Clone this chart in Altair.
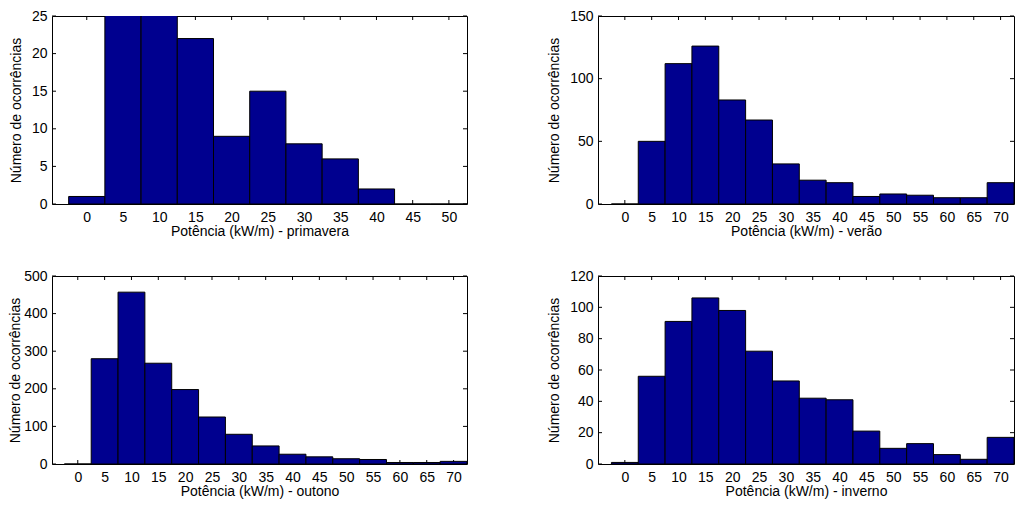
import altair as alt
import pandas as pd

# ---- data ----
centers_short = [0, 5, 10, 15, 20, 25, 30, 35, 40, 45, 50]
centers_long = [0, 5, 10, 15, 20, 25, 30, 35, 40, 45, 50, 55, 60, 65, 70]

primavera = [1, 29, 27, 22, 9, 15, 8, 6, 2, 0, 0]
verao = [0, 50, 112, 126, 83, 67, 32, 19, 17, 6, 8, 7, 5, 5, 17]
outono = [0, 280, 457, 268, 198, 125, 79, 48, 26, 19, 14, 12, 4, 4, 7]
inverno = [1, 56, 91, 106, 98, 72, 53, 42, 41, 21, 10, 13, 6, 3, 17]

yticks_primavera = [0, 5, 10, 15, 20, 25]
yticks_verao = [0, 50, 100, 150]
yticks_outono = [0, 100, 200, 300, 400, 500]
yticks_inverno = [0, 20, 40, 60, 80, 100, 120]

FONT = "Liberation Sans"
BAR = "#00008F"
H = 188


def panel(centers, counts, xdom, yticks, label, W, tpad):
    bars = pd.DataFrame({
        "x": [c - 2.5 for c in centers],
        "x2": [c + 2.5 for c in centers],
        "n": counts,
    })
    xt = pd.DataFrame({"x": centers})
    yt = pd.DataFrame({"n": yticks})
    xs = alt.Scale(domain=xdom, nice=False, zero=False)
    ys = alt.Scale(domain=[yticks[0], yticks[-1]], nice=False)
    xax = alt.Axis(values=centers, title=f"Potência (kW/m) - {label}", grid=False,
                   domain=False, ticks=False, labelPadding=6, titlePadding=0)
    yax = alt.Axis(values=yticks, title="Número de ocorrências", grid=False,
                   domain=False, ticks=False, labelPadding=5, titlePadding=tpad)
    X = alt.X("x:Q", scale=xs, axis=xax)
    Y = alt.Y("n:Q", scale=ys, axis=yax)
    top = alt.Chart(xt).mark_rule(color="black").encode(x=X, y=alt.value(0), y2=alt.value(4))
    bot = alt.Chart(xt).mark_rule(color="black").encode(x=X, y=alt.value(H - 4), y2=alt.value(H))
    left = alt.Chart(yt).mark_rule(color="black").encode(y=Y, x=alt.value(0), x2=alt.value(4))
    right = alt.Chart(yt).mark_rule(color="black").encode(y=Y, x=alt.value(W - 4), x2=alt.value(W))
    bar = alt.Chart(bars).mark_rect(color=BAR, stroke="black", strokeWidth=1, clip=True).encode(
        x=X, x2="x2", y=Y, y2=alt.datum(0)
    )
    return alt.layer(top, bot, left, right, bar).properties(width=W, height=H)


p1 = panel(centers_short, primavera, [-4.8, 52.5], yticks_primavera, "primavera", 415, 8)
p2 = panel(centers_long, verao, [-5, 72.5], yticks_verao, "verão", 416, 8)
p3 = panel(centers_long, outono, [-4.8, 72.5], yticks_outono, "outono", 415, 1)
p4 = panel(centers_long, inverno, [-5, 72.5], yticks_inverno, "inverno", 416, 8)

chart = alt.concat(p1, p2, p3, p4, columns=2, spacing={"row": 29, "column": 79}).properties(
    padding={"left": 0, "top": 0, "right": 0, "bottom": 0}
).configure_view(stroke="black", strokeWidth=1).configure_axis(
    labelFont=FONT, titleFont=FONT, labelFontSize=14, titleFontSize=14,
    labelColor="black", titleColor="black", titleFontWeight="normal"
)

chart.save("out.html", embed_options={"renderer": "svg", "actions": False})
